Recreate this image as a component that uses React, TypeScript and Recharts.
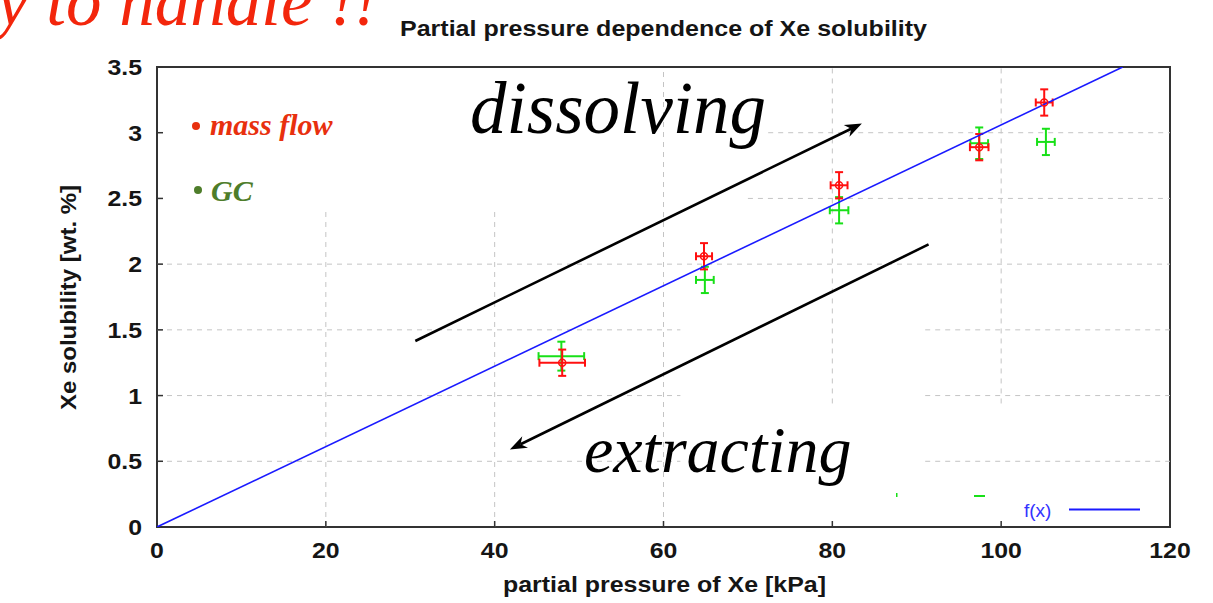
import React from 'react';
import { ScatterChart, Scatter, XAxis, YAxis, ErrorBar, ReferenceLine, ReferenceArea } from 'recharts';

// ---------- data ----------
const xTicks = [0, 20, 40, 60, 80, 100, 120];
const yTicks = [0, 0.5, 1, 1.5, 2, 2.5, 3, 3.5];

const massFlowPressure = [48.0, 64.8, 80.8, 97.4, 105.1];
const massFlowSolubility = [1.25, 2.06, 2.6, 2.89, 3.23];
const massFlowPressureErr = [2.7, 0.95, 1.0, 1.1, 1.0];
const massFlowSolubilityErr = [0.1, 0.1, 0.1, 0.1, 0.1];

const gcPressure = [47.9, 64.9, 80.8, 97.4, 105.3];
const gcSolubility = [1.3, 1.88, 2.41, 2.92, 2.93];
const gcPressureErr = [2.7, 1.05, 1.1, 1.05, 1.05];
const gcSolubilityErr = [0.11, 0.1, 0.1, 0.12, 0.1];

const fitPressure = [0, 114.4];
const fitSolubility = [0, 3.5];

// visible pieces of the dashed grid (data units)
const hGridLevel = [0.5, 0.5, 1, 1, 1.5, 1.5, 2, 2.5, 3];
const hGridFrom = [0, 91, 0, 91, 0, 91, 0, 70, 72.4];
const hGridTo = [62, 120, 62, 120, 62, 120, 120, 120, 120];
const vGridLevel = [20, 40, 60, 80, 100];
const vGridFrom = [0, 0, 0, 0.94, 0.94];
const vGridTo = [2.43, 2.43, 3.5, 3.5, 3.5];

// annotation arrows (data units)
const arrowStartX = [30.6, 91.4];
const arrowStartY = [1.415, 2.15];
const arrowEndX = [83.5, 41.8];
const arrowEndY = [3.07, 0.59];

const massFlowData = massFlowPressure.map((x, i) => ({
  x, y: massFlowSolubility[i], ex: massFlowPressureErr[i], ey: massFlowSolubilityErr[i],
}));
const gcData = gcPressure.map((x, i) => ({
  x, y: gcSolubility[i], ex: gcPressureErr[i], ey: gcSolubilityErr[i],
}));
const fitData = fitPressure.map((x, i) => ({ x, y: fitSolubility[i] }));

// ---------- styles ----------
const SANS = '"Liberation Sans", Arial, Helvetica, sans-serif';
const SERIF = '"Liberation Serif", "Times New Roman", serif';
const AXIS = '#333333';
const GRID = '#c4c4c4';
const RED = '#ff1010';
const GREEN = '#18e018';
const BLUE = '#1a1aff';
const INK = '#151515';

const XTick = (props: any) => {
  const { x, y, payload } = props;
  return (
    <text
      transform={`translate(${x},${y + 31}) scale(1.13,1)`}
      textAnchor="middle"
      fontFamily={SANS}
      fontWeight="bold"
      fontSize={22}
      fill={INK}
    >
      {payload.value}
    </text>
  );
};

const YTick = (props: any) => {
  const { x, y, payload } = props;
  return (
    <text
      transform={`translate(${x - 15},${y + 8}) scale(1.13,1)`}
      textAnchor="end"
      fontFamily={SANS}
      fontWeight="bold"
      fontSize={22}
      fill={INK}
    >
      {payload.value}
    </text>
  );
};

const RedMarker = (props: any) => {
  const { cx, cy } = props;
  if (cx == null || cy == null) return <g />;
  return <circle cx={cx} cy={cy} r={3.5} fill="none" stroke={RED} strokeWidth={1.5} />;
};
const NoMarker = () => <g />;

const GridSeg = (props: any) => {
  const { x1, y1, x2, y2 } = props;
  return <line x1={x1} y1={y1} x2={x2} y2={y2} stroke={GRID} strokeWidth={1} strokeDasharray="5 5" />;
};

const ArrowShape = (props: any) => {
  const { x1, y1, x2, y2 } = props;
  const dx = x2 - x1;
  const dy = y2 - y1;
  const len = Math.sqrt(dx * dx + dy * dy) || 1;
  const ux = dx / len;
  const uy = dy / len;
  const hl = 17;
  const hw = 6.5;
  const bx = x2 - ux * hl;
  const by = y2 - uy * hl;
  const nx = x2 - ux * (hl * 0.7);
  const ny = y2 - uy * (hl * 0.7);
  const p1 = `${x2},${y2}`;
  const p2 = `${bx - uy * hw},${by + ux * hw}`;
  const p3 = `${nx},${ny}`;
  const p4 = `${bx + uy * hw},${by - ux * hw}`;
  return (
    <g>
      <line x1={x1} y1={y1} x2={nx} y2={ny} stroke="#000" strokeWidth={2.6} />
      <polygon points={`${p1} ${p2} ${p3} ${p4}`} fill="#000" />
    </g>
  );
};

export default function App() {
  return (
    <div style={{ position: 'absolute', left: 0, top: 0, width: 1213, height: 603, background: '#fff', overflow: 'hidden' }}>
      <ScatterChart
        width={1213}
        height={603}
        margin={{ top: 67, right: 43, bottom: 26, left: 0 }}
      >
        <XAxis
          xAxisId="main"
          type="number"
          dataKey="x"
          domain={[0, 120]}
          ticks={xTicks}
          allowDataOverflow
          height={50}
          axisLine={false}
          tickSize={-6}
          tickMargin={6}
          tickLine={{ stroke: AXIS, strokeWidth: 1.5 }}
          tick={<XTick />}
        />
        <XAxis
          xAxisId="top"
          orientation="top"
          type="number"
          dataKey="x"
          domain={[0, 120]}
          ticks={xTicks}
          height={0}
          axisLine={false}
          tickSize={-6}
          tick={false}
          tickLine={{ stroke: AXIS, strokeWidth: 1.5 }}
        />
        <YAxis
          yAxisId="main"
          type="number"
          dataKey="y"
          domain={[0, 3.5]}
          ticks={yTicks}
          allowDataOverflow
          width={157}
          axisLine={false}
          tickSize={-6}
          tickMargin={6}
          tickLine={{ stroke: AXIS, strokeWidth: 1.5 }}
          tick={<YTick />}
        />
        <YAxis
          yAxisId="right"
          orientation="right"
          type="number"
          dataKey="y"
          domain={[0, 3.5]}
          ticks={yTicks}
          width={0}
          axisLine={false}
          tickSize={-6}
          tick={false}
          tickLine={{ stroke: AXIS, strokeWidth: 1.5 }}
        />

        {hGridLevel.map((lv, i) => (
          <ReferenceLine
            key={`h${i}`}
            xAxisId="main"
            yAxisId="main"
            segment={[{ x: hGridFrom[i], y: lv }, { x: hGridTo[i], y: lv }]}
            shape={<GridSeg />}
          />
        ))}
        {vGridLevel.map((lv, i) => (
          <ReferenceLine
            key={`v${i}`}
            xAxisId="main"
            yAxisId="main"
            segment={[{ x: lv, y: vGridFrom[i] }, { x: lv, y: vGridTo[i] }]}
            shape={<GridSeg />}
          />
        ))}

        <Scatter
          xAxisId="main"
          yAxisId="main"
          data={fitData}
          line={{ stroke: BLUE, strokeWidth: 1.6 }}
          shape={<NoMarker />}
          isAnimationActive={false}
        />

        <Scatter
          xAxisId="main"
          yAxisId="main"
          data={gcData}
          shape={<NoMarker />}
          isAnimationActive={false}
        >
          <ErrorBar dataKey="ex" direction="x" width={4} stroke={GREEN} strokeWidth={2} isAnimationActive={false} />
          <ErrorBar dataKey="ey" direction="y" width={4} stroke={GREEN} strokeWidth={2} isAnimationActive={false} />
        </Scatter>

        <Scatter
          xAxisId="main"
          yAxisId="main"
          data={massFlowData}
          shape={<RedMarker />}
          isAnimationActive={false}
        >
          <ErrorBar dataKey="ex" direction="x" width={4} stroke={RED} strokeWidth={2} isAnimationActive={false} />
          <ErrorBar dataKey="ey" direction="y" width={4} stroke={RED} strokeWidth={2} isAnimationActive={false} />
        </Scatter>

        {arrowStartX.map((sx, i) => (
          <ReferenceLine
            key={`a${i}`}
            xAxisId="main"
            yAxisId="main"
            segment={[{ x: sx, y: arrowStartY[i] }, { x: arrowEndX[i], y: arrowEndY[i] }]}
            shape={<ArrowShape />}
          />
        ))}

        <ReferenceArea
          xAxisId="main"
          yAxisId="main"
          x1={0}
          x2={120}
          y1={0}
          y2={3.5}
          fill="none"
          fillOpacity={0}
          stroke={AXIS}
          strokeWidth={2}
          ifOverflow="visible"
        />
      </ScatterChart>

      <svg
        width={1213}
        height={603}
        style={{ position: 'absolute', left: 0, top: 0, pointerEvents: 'none' }}
      >
        <text x={-3} y={25} fontFamily={SERIF} fontStyle="italic" fontSize={71} fill="#f3260c">
          y to handle !!
        </text>
        <text
          x={400}
          y={36}
          textLength={527}
          lengthAdjust="spacingAndGlyphs"
          fontFamily={SANS}
          fontWeight="bold"
          fontSize={22}
          fill={INK}
        >
          Partial pressure dependence of Xe solubility
        </text>
        <text
          x={503}
          y={592}
          textLength={323}
          lengthAdjust="spacingAndGlyphs"
          fontFamily={SANS}
          fontWeight="bold"
          fontSize={22}
          fill={INK}
        >
          partial pressure of Xe [kPa]
        </text>
        <text
          transform="translate(76,410) rotate(-90)"
          x={0}
          y={0}
          textLength={225}
          lengthAdjust="spacingAndGlyphs"
          fontFamily={SANS}
          fontWeight="bold"
          fontSize={22}
          fill={INK}
        >
          Xe solubility [wt. %]
        </text>

        <text x={470} y={133} fontFamily={SERIF} fontStyle="italic" fontSize={73} fill="#000">
          dissolving
        </text>
        <text x={584} y={472} fontFamily={SERIF} fontStyle="italic" fontSize={66} fill="#000">
          extracting
        </text>

        <circle cx={196} cy={126} r={4} fill="#e8300e" />
        <text x={210} y={135} fontFamily={SERIF} fontStyle="italic" fontWeight="bold" fontSize={30} fill="#e8300e">
          mass flow
        </text>
        <circle cx={198} cy={190} r={4} fill="#4e7d2a" />
        <text x={211} y={201} fontFamily={SERIF} fontStyle="italic" fontWeight="bold" fontSize={30} fill="#4e7d2a">
          GC
        </text>

        <text x={1024} y={517} fontFamily={SANS} fontSize={19} fill="#3333ff">
          f(x)
        </text>
        <line x1={1069} y1={509.5} x2={1140} y2={509.5} stroke={BLUE} strokeWidth={2} />

        <rect x={896} y={493} width={1.5} height={4} fill={GREEN} />
        <rect x={974} y={495} width={11} height={2} fill={GREEN} />
      </svg>
    </div>
  );
}
